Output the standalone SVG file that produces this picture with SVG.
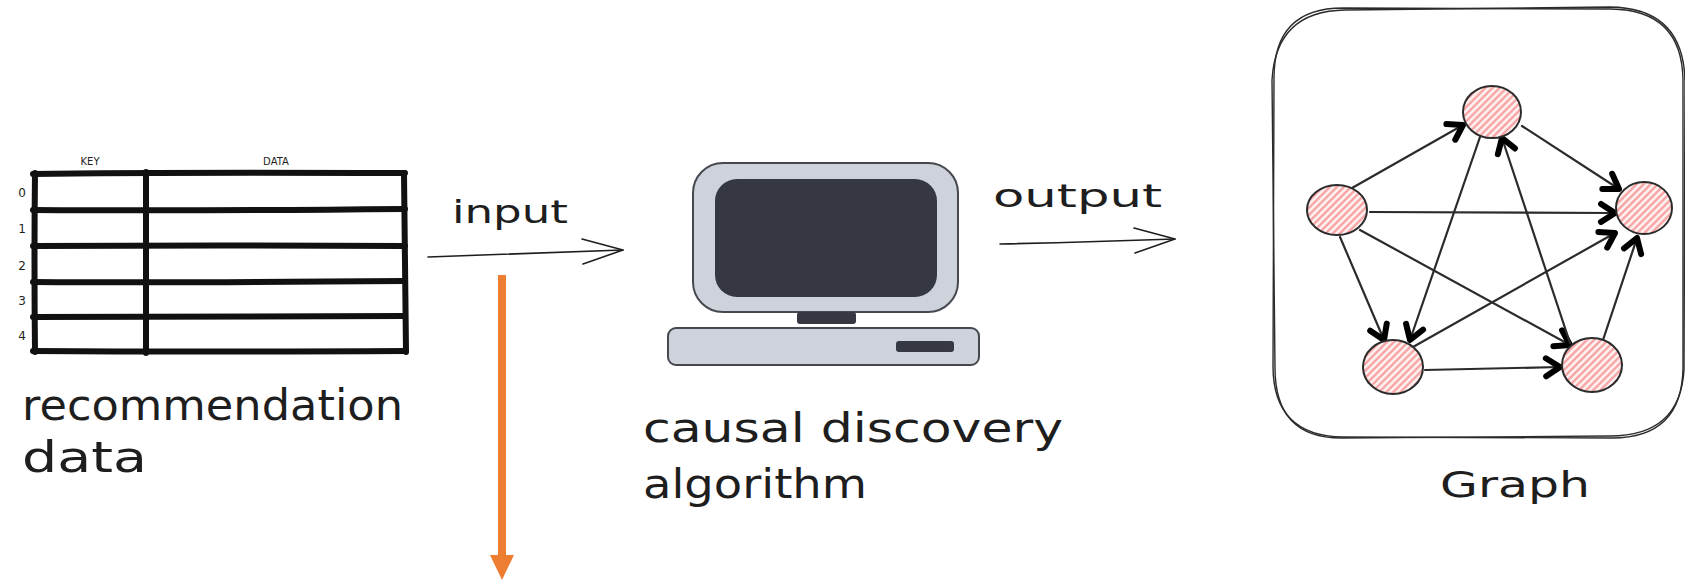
<svg xmlns="http://www.w3.org/2000/svg" width="1685" height="580" viewBox="0 0 1685 580">
  <style>
    .hand { font-family: "DejaVu Sans", "Liberation Sans", sans-serif; fill: #1e1e1e; }
    .tbl { fill: none; stroke: #111; stroke-width: 6; stroke-linecap: round; stroke-linejoin: round; }
    .thin { fill: none; stroke: #1e1e1e; stroke-width: 1.6; stroke-linecap: round; stroke-linejoin: round; }
    .edge { fill: none; stroke: #2b2b2b; stroke-width: 2.2; stroke-linecap: round; marker-end: url(#head); }
    .node { fill: url(#hatch); stroke: #2b2b2b; stroke-width: 2; }
    .frame { fill: none; stroke: #2b2b2b; stroke-width: 1.4; }
  </style>
  <defs>
    <pattern id="hatch" patternUnits="userSpaceOnUse" width="5" height="5" patternTransform="rotate(-45)">
      <rect width="5" height="5" fill="#fff4f4"/>
      <line x1="0" y1="2.5" x2="5" y2="2.5" stroke="#f59a9a" stroke-width="2.2"/>
    </pattern>
    <marker id="head" markerUnits="userSpaceOnUse" viewBox="-20 -12 24 24" markerWidth="24" markerHeight="24" refX="0" refY="0" orient="auto" overflow="visible">
      <path d="M-14,-9 L0,0 L-14,9" fill="none" stroke="#000" stroke-width="6" stroke-linecap="round" stroke-linejoin="round"/>
    </marker>
  </defs>

  <!-- data table -->
  <g id="table">
    <text class="hand" x="90" y="165" font-size="10" text-anchor="middle">KEY</text>
    <text class="hand" x="276" y="165" font-size="10" text-anchor="middle">DATA</text>
    <g font-size="12" text-anchor="middle">
      <text class="hand" x="22" y="197">0</text>
      <text class="hand" x="22" y="233">1</text>
      <text class="hand" x="22" y="270">2</text>
      <text class="hand" x="22" y="305">3</text>
      <text class="hand" x="22" y="340">4</text>
    </g>
    <path class="tbl" d="M33,174 Q150,172 405,173"/>
    <path class="tbl" d="M33,210 Q200,211 405,209"/>
    <path class="tbl" d="M33,246 Q220,245 405,246"/>
    <path class="tbl" d="M33,282 Q180,283 405,281"/>
    <path class="tbl" d="M33,317 Q210,316 405,316"/>
    <path class="tbl" d="M33,351 Q200,352 405,351"/>
    <path class="tbl" d="M35,173 Q34,260 35,352"/>
    <path class="tbl" d="M146,172 Q146,260 146,353"/>
    <path class="tbl" d="M404,173 Q405,260 406,352"/>
  </g>

  <g id="label-data">
    <text class="hand" x="22" y="420" font-size="42" textLength="381" lengthAdjust="spacingAndGlyphs">recommendation</text>
    <text class="hand" x="22" y="472" font-size="42" textLength="125" lengthAdjust="spacingAndGlyphs">data</text>
  </g>

  <!-- computer -->
  <g id="computer">
    <rect x="693" y="163" width="265" height="149" rx="30" fill="#ced2da" stroke="#45484f" stroke-width="2"/>
    <rect x="715" y="179" width="222" height="118" rx="22" fill="#353840"/>
    <rect x="797" y="312" width="59" height="12" rx="3" fill="#353840"/>
    <rect x="668" y="328" width="311" height="37" rx="8" fill="#ced2da" stroke="#45484f" stroke-width="2"/>
    <rect x="896" y="341" width="58" height="11" rx="3" fill="#353840"/>
  </g>

  <g id="label-algorithm">
    <text class="hand" x="643" y="442" font-size="40" textLength="420" lengthAdjust="spacingAndGlyphs">causal discovery</text>
    <text class="hand" x="643" y="498" font-size="40" textLength="224" lengthAdjust="spacingAndGlyphs">algorithm</text>
  </g>

  <!-- causal graph -->
  <g id="graph">
    <path class="frame" d="M1343,8 L1611,9 Q1682,10 1683,80 L1683,368 Q1682,438 1612,438 L1343,437 Q1273,436 1273,366 L1274,78 Q1274,8 1343,8 Z"/>
    <path class="frame" d="M1345,10 L1610,7 Q1684,8 1685,82 L1684,370 Q1680,436 1610,436 L1341,438 Q1275,438 1275,368 L1272,80 Q1276,11 1345,10 Z"/>
    <g id="edges">
      <path class="edge" d="M1352,188 L1463,125"/>
      <path class="edge" d="M1370,212 L1615,213"/>
      <path class="edge" d="M1340,237 L1384,340"/>
      <path class="edge" d="M1360,230 L1570,345"/>
      <path class="edge" d="M1522,126 L1619,189"/>
      <path class="edge" d="M1480,137 L1410,340"/>
      <path class="edge" d="M1570,343 L1502,138"/>
      <path class="edge" d="M1413,347 L1615,233"/>
      <path class="edge" d="M1425,370 L1560,367"/>
      <path class="edge" d="M1603,340 L1637,238"/>
    </g>
    <g id="n-top"><ellipse class="node" cx="1492" cy="112" rx="29" ry="26"/></g>
    <g id="n-left"><ellipse class="node" cx="1337" cy="210" rx="30" ry="25"/></g>
    <g id="n-right"><ellipse class="node" cx="1644" cy="208" rx="28" ry="26"/></g>
    <g id="n-bottom-left"><ellipse class="node" cx="1393" cy="367" rx="30" ry="27"/></g>
    <g id="n-bottom-right"><ellipse class="node" cx="1592" cy="365" rx="30" ry="27"/></g>
  </g>

  <g id="label-graph">
    <text class="hand" x="1440" y="497" font-size="36" textLength="150" lengthAdjust="spacingAndGlyphs">Graph</text>
  </g>

  <!-- connectors -->
  <g id="connectors">
    <g id="input">
      <text class="hand" x="452" y="223" font-size="32" textLength="116" lengthAdjust="spacingAndGlyphs">input</text>
      <path class="thin" d="M428,257 Q520,254 623,250"/>
      <path class="thin" d="M582,239 L623,250 L583,264"/>
    </g>
    <g id="output">
      <text class="hand" x="993" y="207" font-size="32" textLength="169" lengthAdjust="spacingAndGlyphs">output</text>
      <path class="thin" d="M1000,244 Q1090,242 1175,239"/>
      <path class="thin" d="M1134,228 L1175,239 L1135,253"/>
    </g>
    <g id="down-arrow">
      <line x1="502" y1="275" x2="502" y2="556" stroke="#ed7d31" stroke-width="8"/>
      <path d="M490,555 L514,555 L502,580 Z" fill="#ed7d31"/>
    </g>
  </g>
</svg>
